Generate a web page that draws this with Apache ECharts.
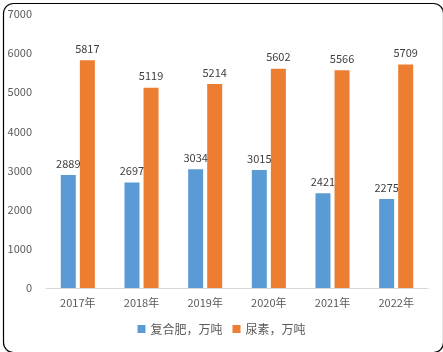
<!DOCTYPE html>
<html><head><meta charset="utf-8">
<script src="https://cdn.jsdelivr.net/npm/echarts@6/dist/echarts.min.js"></script>
<style>html,body{margin:0;padding:0;background:#fff}#c{width:443px;height:352px}</style>
</head><body><div id="c"></div>
<script>
const categories = ['2017年','2018年','2019年','2020年','2021年','2022年'];
const compound = [2889,2697,3034,3015,2421,2275];
const urea = [5817,5119,5214,5602,5566,5709];
const seriesNames = ['复合肥，万吨','尿素，万吨'];
const chart = echarts.init(document.getElementById('c'));
const font = "'Noto Sans CJK SC','DejaVu Sans',sans-serif";
chart.setOption({
  animation:false,
  textStyle:{fontFamily:font},
  graphic:[{type:'rect',left:1,top:1,shape:{width:440,height:349,r:10},style:{fill:'none',stroke:'#000',lineWidth:1.2},z:-1}],
  grid:{left:46,right:15,top:14,bottom:64},
  legend:{bottom:12,left:'center',itemWidth:8,itemHeight:8,itemGap:10,icon:'rect',
    textStyle:{color:'#595959',fontSize:12,fontFamily:font},data:seriesNames},
  xAxis:{type:'category',data:categories,axisTick:{show:false},
    axisLine:{lineStyle:{color:'#d9d9d9'}},
    axisLabel:{color:'#595959',fontSize:11,margin:9,fontFamily:font}},
  yAxis:{type:'value',min:0,max:7000,interval:1000,splitLine:{show:false},
    axisLabel:{color:'#595959',fontSize:11,margin:14,fontFamily:font,formatter:v=>String(v)}},
  series:[
    {name:seriesNames[0],type:'bar',data:compound,barWidth:15,barGap:'27%',itemStyle:{color:'#5b9bd5'},
      label:{show:true,position:'top',color:'#404040',fontSize:11,distance:6,fontFamily:font}},
    {name:seriesNames[1],type:'bar',data:urea,barWidth:15,itemStyle:{color:'#ed7d31'},
      label:{show:true,position:'top',color:'#404040',fontSize:11,distance:6,fontFamily:font}}
  ]
});
</script></body></html>
